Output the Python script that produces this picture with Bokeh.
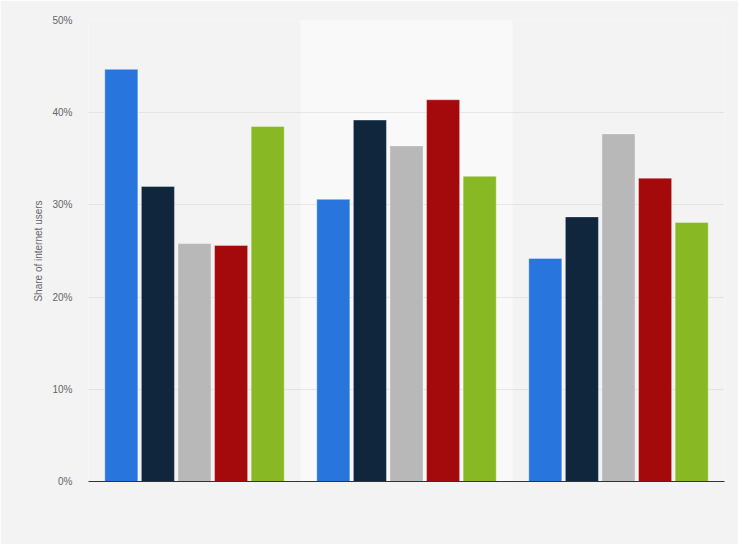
from bokeh.plotting import figure
from bokeh.models import ColumnDataSource, Range1d, BoxAnnotation, PrintfTickFormatter, FixedTicker
from bokeh.embed import file_html
from bokeh.resources import INLINE

# data (share of internet users, %)
groups = ["Group 1", "Group 2", "Group 3"]
series = ["Series 1", "Series 2", "Series 3", "Series 4", "Series 5"]
colors = ["#2876dd", "#10263d", "#b8b8b8", "#a40a0b", "#88b924"]
values = [
    [44.7, 32.0, 25.8, 25.6, 38.5],   # Group 1
    [30.6, 39.2, 36.4, 41.4, 33.1],   # Group 2
    [24.2, 28.7, 37.7, 32.9, 28.1],   # Group 3
]
y_ticks = [0, 10, 20, 30, 40, 50]

p = figure(width=738, height=544,
           x_range=Range1d(0, len(groups)), y_range=Range1d(0, 50),
           output_backend="svg", toolbar_location=None,
           min_border_left=88, min_border_right=14,
           min_border_top=20, min_border_bottom=63)

p.background_fill_color = "#f3f3f3"
p.border_fill_color = "#f3f3f3"
p.outline_line_color = None

# lighter band behind the middle group
p.add_layout(BoxAnnotation(left=1, right=2, fill_color="#f9f9f9", fill_alpha=1,
                           line_color=None, level="image"))

bar_w = 0.156
step = 0.1726
for j, name in enumerate(series):
    xs = [i + 0.5 + (j - 2) * step for i in range(len(groups))]
    ys = [values[i][j] for i in range(len(groups))]
    src = ColumnDataSource(data={"x": xs, "top": ys})
    p.vbar(x="x", top="top", width=bar_w, source=src,
           fill_color=colors[j], line_color="white", line_alpha=0.35, line_width=1)

# axes
p.xaxis.ticker = FixedTicker(ticks=[])
p.xaxis.major_tick_line_color = None
p.xaxis.minor_tick_line_color = None
p.xaxis.axis_line_color = "#333333"
p.xaxis.axis_line_width = 1
p.xgrid.grid_line_color = None

p.yaxis.ticker = FixedTicker(ticks=y_ticks)
p.yaxis.formatter = PrintfTickFormatter(format="%d%%")
p.yaxis.axis_line_color = None
p.yaxis.major_tick_line_color = None
p.yaxis.minor_tick_line_color = None
p.yaxis.major_label_text_font = "Liberation Sans"
p.yaxis.major_label_text_font_size = "10px"
p.yaxis.major_label_text_color = "#666666"
p.yaxis.major_label_standoff = 10
p.yaxis.axis_label = "Share of internet users"
p.yaxis.axis_label_text_font = "Liberation Sans"
p.yaxis.axis_label_text_font_size = "10px"
p.yaxis.axis_label_text_font_style = "normal"
p.yaxis.axis_label_text_color = "#666666"
p.yaxis.axis_label_standoff = 5

p.ygrid.grid_line_color = "#d3d3d3"
p.ygrid.grid_line_dash = "1 1"
p.ygrid.grid_line_width = 1
p.ygrid.level = "underlay"

open("out.html", "w").write(file_html(p, INLINE))
